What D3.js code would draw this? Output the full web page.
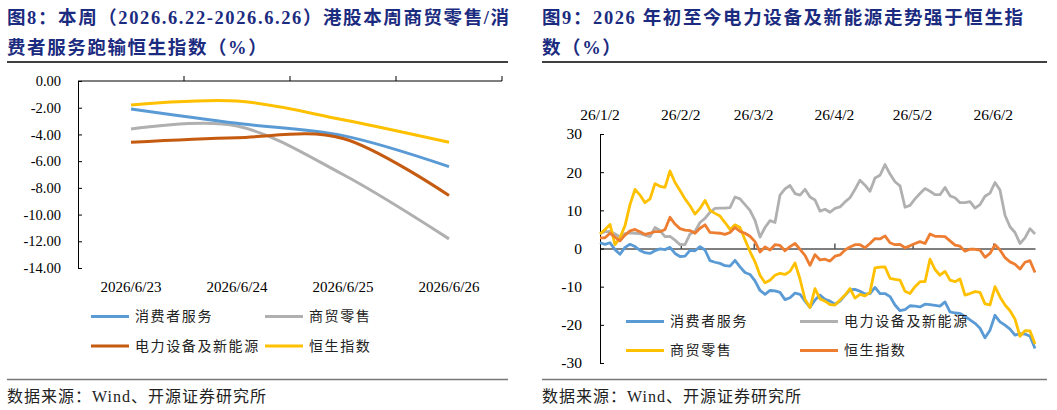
<!DOCTYPE html>
<html>
<head>
<meta charset="utf-8">
<script src="https://cdn.jsdelivr.net/npm/d3@7"></script>
<style>
  body { margin: 0; background: #fff; }
  svg { display: block; }
</style>
</head>
<body>
<svg id="chart"></svg>
<script>
// ---- figure 8 data (weekly return, %)
const weekDays = ["2026/6/23", "2026/6/24", "2026/6/25", "2026/6/26"];
const weekConsumer = [-2.09, -3.17, -4.09, -6.41];
const weekRetail = [-3.59, -3.37, -7.00, -11.82];
const weekPower = [-4.59, -4.24, -4.30, -8.58];
const weekHsi = [-1.80, -1.50, -2.90, -4.59];
const weekTicks = [0, -2, -4, -6, -8, -10, -12, -14];

// ---- figure 9 data (ytd return, %)
const ytdStart = "2026-01-02";
const ytdEnd = "2026-06-18";
const ytdTickDates = ["2026-01-02", "2026-02-02", "2026-03-02", "2026-04-02", "2026-05-02", "2026-06-02"];
const ytdTickLabels = ["26/1/2", "26/2/2", "26/3/2", "26/4/2", "26/5/2", "26/6/2"];
const ytdTicks = [30, 20, 10, 0, -10, -20, -30];
const ytdConsumer = [
  1.5, 1.1, 1.5, -0.3, -1.5, 0.3, 1.1, 0.5, -0.5, -1.1, -1.3, -0.6, -0.1, -0.3, 0.3, -1.3, -2.1, -2.0, -0.5, -0.6,
  0.5, -0.4, -3.2, -3.6, -3.9, -4.5, -4.6, -3.1, -4.8, -6.3,
  -6.8, -8.5, -11.0, -12.0, -11.0, -11.1, -11.5, -13.4, -12.9, -11.7, -12.0, -13.8, -15.4, -13.5, -12.2, -13.3, -13.8,
  -14.6, -13.8, -12.3, -10.8, -10.7, -11.2, -11.9, -11.8, -10.2, -11.8, -11.8, -12.6,
  -14.8, -16.3, -16.0, -15.0, -15.1, -15.3, -14.6, -14.7, -14.9, -15.1, -14.0, -16.6, -16.9, -17.0, -17.8, -18.7, -19.6,
  -20.9, -23.4, -21.4, -17.5, -19.2, -20.1, -21.1, -22.7, -22.3, -22.4, -23.0, -26.2
];
const ytdPower = [
  3.9, 4.4, 4.5, 3.8, 3.0, 3.9, 4.1, 4.0, 3.9, 3.5, 3.1, 5.5, 4.7, 3.1, 3.2, 2.2, 1.0, 1.0, 3.8, 4.5,
  6.8, 7.9, 9.5, 10.5, 10.6, 10.6, 10.7, 13.5, 13.0, 11.5,
  10.0, 7.4, 3.0, 5.5, 7.3, 6.8, 14.0, 15.6, 16.5, 14.4, 14.0, 15.5, 13.5, 12.7, 9.8, 10.3, 9.5,
  10.5, 10.9, 12.2, 13.3, 15.5, 17.9, 16.6, 15.0, 18.5, 19.2, 22.0, 19.5,
  17.5, 16.4, 10.8, 11.3, 13.0, 14.4, 15.7, 15.0, 14.1, 14.1, 16.0, 13.8, 13.3, 12.0, 12.0, 12.3, 10.6,
  11.5, 13.7, 14.5, 17.3, 15.3, 8.7, 5.7, 4.2, 1.3, 2.8, 5.2, 3.8
];
const ytdRetail = [
  3.8, 5.0, 6.3, 1.0, 2.8, 6.0, 11.5, 15.5, 14.0, 12.0, 13.0, 17.0, 16.3, 16.0, 20.3, 17.3, 15.2, 13.0, 11.2, 9.0,
  10.5, 12.6, 10.0, 9.2, 8.5, 6.8, 5.0, 6.2, 5.5, 2.3,
  -0.8, -3.5, -7.0, -9.0, -8.3, -7.0, -6.5, -6.8, -6.0, -3.8, -8.0, -13.3, -15.5, -10.5, -13.2, -13.8, -14.7,
  -14.8, -13.5, -12.2, -10.5, -13.0, -12.0, -12.4, -11.5, -5.1, -4.9, -4.8, -7.8,
  -8.1, -8.3, -11.2, -11.8, -10.0, -8.7, -8.7, -2.8, -5.5, -7.0, -6.0, -8.3, -8.7, -8.0, -12.2, -11.8, -11.3,
  -11.5, -14.5, -14.8, -10.0, -12.7, -14.8, -16.3, -18.5, -23.0, -21.5, -21.6, -25.0
];
const ytdHsi = [
  2.8, 2.8, 4.0, 3.0, 2.0, 3.5, 4.6, 5.0, 4.4, 3.7, 4.0, 4.4, 4.4, 5.0, 8.2, 6.4, 5.2, 4.8, 4.7, 4.0,
  5.3, 6.2, 4.2, 4.1, 4.0, 3.7, 4.2, 5.5, 4.5, 4.0,
  3.2, 1.8, -0.9, 0.4, -0.4, 1.0, 0.8, -0.6, 0.5, 1.3, -0.2, -1.8, -4.4, -1.6, -3.0, -2.8, -3.3,
  -2.0, -1.7, -0.4, 0.4, 1.0, 1.0, 0.2, 1.3, 2.6, 2.5, 3.3, 1.5,
  1.0, 1.1, 0.2, 0.7, 1.3, 1.8, 1.3, 3.8, 3.2, 3.2, 3.1, 2.0, 0.9, 0.6, -0.7, -0.2, -0.2,
  -0.4, -2.3, -1.3, 1.0, -0.4, -2.4, -3.5, -4.1, -5.4, -3.6, -3.2, -6.3
];

const serif = "'Liberation Serif', 'Times New Roman', serif";
const mixed = "'Liberation Serif', 'Noto Sans CJK SC', serif";
const titleColor = "#1b2b80";

const svg = d3.select("#chart").attr("width", 1057).attr("height", 410);

// ---- frame: titles, rules, source
function drawFrame(x0, x1, lines) {
  const t = svg.append("text")
    .attr("font-family", mixed).attr("font-weight", "bold")
    .attr("font-size", 18.5).attr("letter-spacing", 1.6)
    .attr("fill", titleColor);
  lines.forEach((s, i) => {
    t.append("tspan").attr("x", x0).attr("y", 24 + i * 30).text(s);
  });
  svg.append("line").attr("x1", x0).attr("x2", x1).attr("y1", 62).attr("y2", 62)
    .attr("stroke", "#000").attr("stroke-width", 1.3);
  svg.append("line").attr("x1", x0).attr("x2", x1).attr("y1", 379.5).attr("y2", 379.5)
    .attr("stroke", "#777").attr("stroke-width", 1.3);
  svg.append("text").attr("x", x0).attr("y", 402)
    .attr("font-family", mixed).attr("font-size", 16).attr("letter-spacing", 1)
    .attr("fill", "#222")
    .text("数据来源：Wind、开源证券研究所");
}

function drawLegend(items, cols, rows) {
  items.forEach((d, i) => {
    const cx = cols[i % 2], cy = rows[Math.floor(i / 2)];
    svg.append("line").attr("x1", cx).attr("x2", cx + 38).attr("y1", cy).attr("y2", cy)
      .attr("stroke", d.color).attr("stroke-width", 3);
    svg.append("text").attr("x", cx + 44).attr("y", cy)
      .attr("dominant-baseline", "central")
      .attr("font-family", mixed).attr("font-size", 14).attr("letter-spacing", 1.6)
      .attr("fill", "#222").text(d.name);
  });
}

// ---- figure 8
drawFrame(7, 508, ["图8：本周（2026.6.22-2026.6.26）港股本周商贸零售/消", "费者服务跑输恒生指数（%）"]);

const x8 = d3.scaleBand().domain(weekDays).range([78, 502]);
const y8 = d3.scaleLinear().domain([-14, 0]).range([268, 81]);

const ax8 = svg.append("g").attr("transform", "translate(78,0)")
  .call(d3.axisLeft(y8).tickValues(weekTicks).tickSizeInner(-4).tickSizeOuter(0)
    .tickPadding(17).tickFormat(d => d.toFixed(2)));
ax8.selectAll("text").attr("font-family", serif).attr("font-size", 14.5).attr("fill", "#000");
ax8.select(".domain").attr("stroke", "#000");

svg.append("line").attr("x1", 78).attr("x2", 502).attr("y1", y8(0)).attr("y2", y8(0)).attr("stroke", "#000");
svg.selectAll(".tick8").data(weekDays).join("line")
  .attr("x1", d => x8(d) + x8.bandwidth()).attr("x2", d => x8(d) + x8.bandwidth())
  .attr("y1", y8(0)).attr("y2", y8(0) - 5).attr("stroke", "#000");
svg.selectAll(".lab8").data(weekDays).join("text")
  .attr("x", d => x8(d) + x8.bandwidth() / 2).attr("y", 292)
  .attr("text-anchor", "middle").attr("font-family", serif).attr("font-size", 15)
  .text(d => d);

const series8 = [
  { name: "消费者服务", color: "#5b9bd5", values: weekConsumer },
  { name: "商贸零售", color: "#b0b0b0", values: weekRetail },
  { name: "电力设备及新能源", color: "#c55a11", values: weekPower },
  { name: "恒生指数", color: "#ffc000", values: weekHsi }
];
const line8 = d3.line()
  .x((d, i) => x8(weekDays[i]) + x8.bandwidth() / 2)
  .y(d => y8(d))
  .curve(d3.curveCatmullRom.alpha(0));
[1, 0, 2, 3].forEach(k => {
  svg.append("path").datum(series8[k].values).attr("d", line8)
    .attr("fill", "none").attr("stroke", series8[k].color).attr("stroke-width", 3)
    .attr("stroke-linejoin", "round");
});
drawLegend(series8, [91, 265], [316.5, 346]);

// ---- figure 9
drawFrame(542, 1047, ["图9：2026 年初至今电力设备及新能源走势强于恒生指", "数（%）"]);

const parse = d3.timeParse("%Y-%m-%d");
const t0 = parse(ytdStart), t1 = parse(ytdEnd);
const x9 = d3.scaleTime().domain([t0, t1]).range([600, 1035]);
const y9 = d3.scaleLinear().domain([-30, 30]).range([363, 134]);
const n9 = ytdConsumer.length;
const dateAt = i => new Date(+t0 + (t1 - t0) * i / (n9 - 1));

const ay9 = svg.append("g").attr("transform", "translate(600,0)")
  .call(d3.axisLeft(y9).tickValues(ytdTicks).tickSizeInner(-4).tickSizeOuter(0)
    .tickPadding(18).tickFormat(d => String(d)));
ay9.selectAll("text").attr("font-family", serif).attr("font-size", 15.5).attr("fill", "#000");
ay9.select(".domain").attr("stroke", "#000");

const tickDates = ytdTickDates.map(parse);
const ax9 = svg.append("g").attr("transform", `translate(0,${y9(0)})`)
  .call(d3.axisTop(x9).tickValues(tickDates).tickSizeInner(5).tickSizeOuter(0).tickFormat(""));
ax9.select(".domain").attr("stroke", "#000");
ax9.selectAll("line").attr("stroke", "#000");

svg.selectAll(".lab9").data(tickDates).join("text")
  .attr("x", d => x9(d)).attr("y", 120)
  .attr("text-anchor", "middle").attr("font-family", serif).attr("font-size", 15.5)
  .text((d, i) => ytdTickLabels[i]);

const series9 = [
  { name: "消费者服务", color: "#5b9bd5", values: ytdConsumer },
  { name: "电力设备及新能源", color: "#b0b0b0", values: ytdPower },
  { name: "商贸零售", color: "#ffc000", values: ytdRetail },
  { name: "恒生指数", color: "#ed7d31", values: ytdHsi }
];
const line9 = d3.line().x((d, i) => x9(dateAt(i))).y(d => y9(d));
series9.forEach(s => {
  svg.append("path").datum(s.values).attr("d", line9)
    .attr("fill", "none").attr("stroke", s.color).attr("stroke-width", 2.8)
    .attr("stroke-linejoin", "round");
});
drawLegend(series9, [626, 800], [321.5, 350.5]);
</script>
</body>
</html>
